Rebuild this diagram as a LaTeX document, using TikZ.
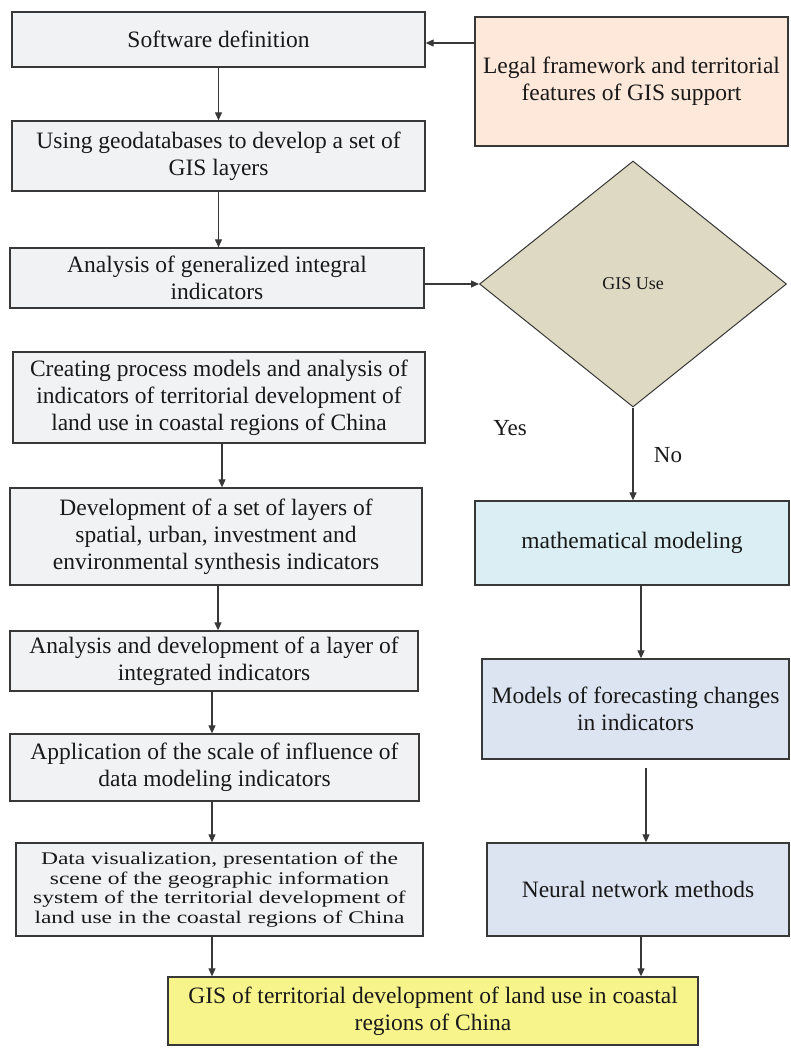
\documentclass[tikz,border=0pt]{standalone}
\usepackage{fontspec}
\setmainfont{Liberation Serif}
\newfontfamily\squish[FakeStretch=1.32]{Liberation Serif}
\usetikzlibrary{arrows.meta,shapes.geometric,calc}
\definecolor{boxgray}{HTML}{F1F2F3}
\definecolor{legalc}{HTML}{FDE8D9}
\definecolor{diac}{HTML}{DDD9C3}
\definecolor{mathc}{HTML}{DAEEF3}
\definecolor{bluec}{HTML}{DBE4F0}
\definecolor{yellc}{HTML}{F8F48C}
\definecolor{linec}{HTML}{383838}
\tikzset{
  pbox/.style={draw=linec, line width=1.3pt, rectangle, inner sep=0pt, align=center,
    font=\fontsize{23.5}{27}\selectfont, text=black!90},
  arr/.style={draw=linec, line width=1.1pt, -{Triangle[length=8pt,width=7pt]}},
  lbl/.style={inner sep=0pt, font=\fontsize{23}{27}\selectfont, text=black!90}
}
\begin{document}
\begin{tikzpicture}[x=1pt,y=-1pt]
\useasboundingbox[fill=white] (0,0) rectangle (790,1048);
% left column
\node[pbox, fill=boxgray, minimum width=413pt, minimum height=55pt] (b1) at (218.5,39.5) {Software definition};
\node[pbox, fill=legalc, minimum width=313pt, minimum height=129pt] (legal) at (631.5,81.5) {Legal framework and territorial\\features of GIS support};
\node[pbox, fill=boxgray, minimum width=413pt, minimum height=70pt] (b2) at (218.5,156) {Using geodatabases to develop a set of\\GIS layers};
\node[pbox, fill=boxgray, minimum width=414pt, minimum height=60pt] (b3) at (217,278) {Analysis of generalized integral\\indicators};
\node[draw=linec, line width=1pt, diamond, fill=diac, inner sep=0pt, minimum width=307pt, minimum height=246pt,
  font=\fontsize{18}{20}\selectfont, text=black!90] (dia) at (633,284) {GIS Use};
\node[pbox, fill=boxgray, minimum width=412pt, minimum height=91pt] (b4) at (219,397.5) {Creating process models and analysis of\\indicators of territorial development of\\land use in coastal regions of China};
\node[pbox, fill=boxgray, minimum width=412pt, minimum height=97pt] (b5) at (216,536.5) {Development of a set of layers of\\spatial, urban, investment and\\environmental synthesis indicators};
\node[pbox, fill=boxgray, minimum width=408pt, minimum height=60pt] (b6) at (214,661) {Analysis and development of a layer of\\integrated indicators};
\node[pbox, fill=boxgray, minimum width=409pt, minimum height=67pt] (b7) at (214.5,767.5) {Application of the scale of influence of\\data modeling indicators};
\node[pbox, fill=boxgray, minimum width=407pt, minimum height=93pt, font=\squish\fontsize{17.8}{19.5}\selectfont] (b8) at (219.5,889.5) {Data visualization, presentation of the\\scene of the geographic information\\system of the territorial development of\\land use in the coastal regions of China};
% right column
\node[pbox, fill=mathc, minimum width=314pt, minimum height=84pt] (math) at (632,543) {mathematical modeling};
\node[pbox, fill=bluec, minimum width=307pt, minimum height=100pt] (models) at (635.5,709) {Models of forecasting changes\\in indicators};
\node[pbox, fill=bluec, minimum width=302pt, minimum height=93pt] (neural) at (638,889.5) {Neural network methods};
% final
\node[pbox, fill=yellc, minimum width=530pt, minimum height=68pt] (gis) at (433,1011) {GIS of territorial development of land use in coastal\\regions of China};
% labels
\node[lbl] (yes) at (510,428) {Yes};
\node[lbl] (no) at (668,455) {No};
% connectors
\draw[arr] (b1.east -| legal.west) ++(0,3.5) coordinate (la) -- (la -| b1.east);
\draw[arr] (b1.south) -- (b2.north);
\draw[arr] (b2.south) -- (b2.south |- b3.north);
\draw[arr] (dia.west -| b3.east) -- (dia.west);
\draw[arr] (dia.south) -- (dia.south |- math.north);
\draw[arr] ([xshift=3pt]b4.south) -- ([xshift=3pt]b4.south |- b5.north);
\draw[arr] ([xshift=2pt]b5.south) -- ([xshift=2pt]b5.south |- b6.north);
\draw[arr] ([xshift=-2pt]b6.south) -- ([xshift=-2pt]b6.south |- b7.north);
\draw[arr] ([xshift=-2.5pt]b7.south) -- ([xshift=-2.5pt]b7.south |- b8.north);
\draw[arr] ([xshift=-7.5pt]b8.south) -- ([xshift=-7.5pt]b8.south |- gis.north);
\draw[arr] ([xshift=9pt]math.south) -- ([xshift=9pt]math.south |- models.north);
\coordinate (mgap) at ($(models.south)+(10.5,8)$);
\draw[arr] (mgap) -- (mgap |- neural.north);
\draw[arr] ([xshift=3pt]neural.south) -- ([xshift=3pt]neural.south |- gis.north);
\end{tikzpicture}
\end{document}
